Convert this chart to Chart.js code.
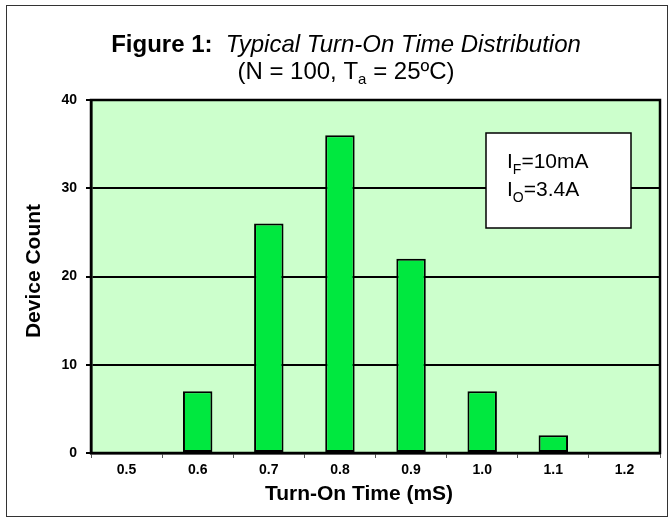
<!DOCTYPE html>
<html>
<head>
<meta charset="utf-8">
<script src="https://cdn.jsdelivr.net/npm/chart.js@4.4.0/dist/chart.umd.min.js"></script>
<style>
  html, body { margin: 0; padding: 0; background: #fff; }
  #wrap { width: 670px; height: 520px; }
</style>
</head>
<body>
<div id="wrap"><canvas id="myChart" width="670" height="520"></canvas></div>
<script>
// values
const categories = ['0.5', '0.6', '0.7', '0.8', '0.9', '1.0', '1.1', '1.2'];
const deviceCounts = [0, 7, 26, 36, 22, 7, 2, 0];
const yTicks = [0, 10, 20, 30, 40];

const FONT = '"Liberation Sans", Arial, sans-serif';

// draw a line of text made of runs with different fonts / offsets
function drawRuns(ctx, runs, x, y, align) {
  let total = 0;
  runs.forEach(r => { ctx.font = r.font; r.w = ctx.measureText(r.text).width; total += r.w; });
  let cx = align === 'left' ? x : x - total / 2;
  ctx.textBaseline = 'alphabetic';
  ctx.textAlign = 'left';
  runs.forEach(r => {
    ctx.font = r.font;
    ctx.fillText(r.text, cx, y + (r.dy || 0));
    cx += r.w;
  });
}

const decor = {
  id: 'decor',
  beforeDraw(chart) {
    const { ctx, chartArea: a } = chart;
    ctx.save();
    ctx.fillStyle = '#fff';
    ctx.fillRect(0, 0, chart.width, chart.height);
    ctx.fillStyle = '#ccffcc';
    ctx.fillRect(a.left, a.top, a.right - a.left, a.bottom - a.top);
    ctx.restore();
  },
  afterDatasetsDraw(chart) {
    const { ctx, chartArea: a } = chart;
    ctx.save();
    ctx.strokeStyle = '#000';
    ctx.lineWidth = 2.5;
    ctx.strokeRect(a.left, a.top, a.right - a.left, a.bottom - a.top);

    // note box with the test conditions
    ctx.fillStyle = '#fff';
    ctx.fillRect(486, 133, 145, 95);
    ctx.lineWidth = 1.5;
    ctx.strokeRect(486, 133, 145, 95);
    ctx.fillStyle = '#000';
    drawRuns(ctx, [
      { text: 'I', font: '21px ' + FONT },
      { text: 'F', font: '14px ' + FONT, dy: 6 },
      { text: '=10mA', font: '21px ' + FONT }
    ], 507, 168, 'left');
    drawRuns(ctx, [
      { text: 'I', font: '21px ' + FONT },
      { text: 'O', font: '14px ' + FONT, dy: 6 },
      { text: '=3.4A', font: '21px ' + FONT }
    ], 507, 196, 'left');
    ctx.restore();
  },
  afterDraw(chart) {
    const { ctx } = chart;
    ctx.save();
    ctx.fillStyle = '#000';
    drawRuns(ctx, [
      { text: 'Figure 1:', font: 'bold 24px ' + FONT },
      { text: '  Typical Turn-On Time Distribution', font: 'italic 24px ' + FONT }
    ], 346, 52);
    drawRuns(ctx, [
      { text: '(N = 100, T', font: '24px ' + FONT },
      { text: 'a', font: '15px ' + FONT, dy: 5 },
      { text: ' = 25ºC)', font: '24px ' + FONT }
    ], 346, 79);

    // axis titles
    ctx.font = 'bold 21px ' + FONT;
    ctx.textAlign = 'center';
    ctx.textBaseline = 'middle';
    ctx.fillText('Turn-On Time (mS)', 359, 494);
    ctx.translate(34, 271);
    ctx.rotate(-Math.PI / 2);
    ctx.fillText('Device Count', 0, 0);
    ctx.restore();

    // outer frame
    ctx.save();
    ctx.strokeStyle = '#333';
    ctx.lineWidth = 1;
    ctx.strokeRect(6.5, 5.5, 661, 511);
    ctx.restore();
  }
};

const ctx = document.getElementById('myChart').getContext('2d');
const myChart = new Chart(ctx, {
  type: 'bar',
  data: {
    labels: categories,
    datasets: [{
      data: deviceCounts,
      backgroundColor: '#00e83f',
      borderColor: '#000',
      borderWidth: 2,
      borderSkipped: false,
      barPercentage: 0.414,
      categoryPercentage: 1
    }]
  },
  options: {
    responsive: false,
    animation: false,
    devicePixelRatio: 1,
    layout: { padding: { top: 100, right: 10, left: 0, bottom: 0 } },
    plugins: { legend: { display: false }, tooltip: { enabled: false }, title: { display: false } },
    scales: {
      x: {
        afterFit(scale) { scale.height = 67; },
        grid: { offset: true, drawOnChartArea: false, tickLength: 5, color: '#555', lineWidth: 1 },
        border: { display: true, color: '#000', width: 2.5 },
        ticks: { color: '#000', padding: 4, font: { family: FONT, size: 14, weight: 'bold' } }
      },
      y: {
        min: yTicks[0],
        max: yTicks[yTicks.length - 1],
        afterFit(scale) { scale.width = 91; },
        afterBuildTicks(scale) { scale.ticks = yTicks.map(v => ({ value: v })); },
        grid: { color: '#000', lineWidth: 2, tickLength: 5 },
        border: { display: true, color: '#000', width: 2.5 },
        ticks: { color: '#000', padding: 9, font: { family: FONT, size: 14, weight: 'bold' } }
      }
    }
  },
  plugins: [decor]
});
</script>
</body>
</html>
